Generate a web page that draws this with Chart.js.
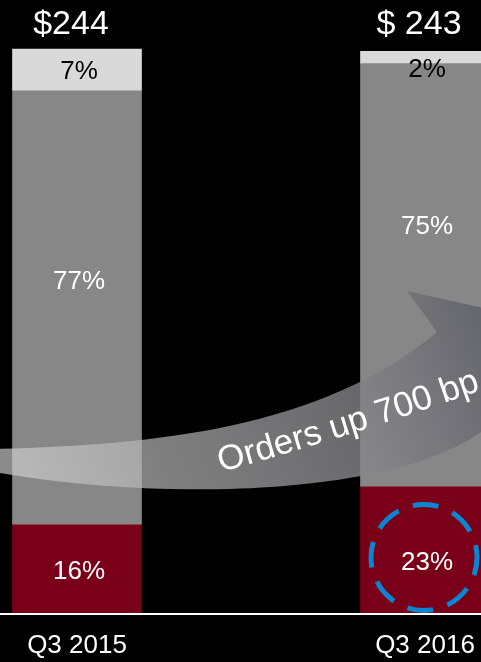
<!DOCTYPE html>
<html>
<head>
<meta charset="utf-8">
<script src="https://cdn.jsdelivr.net/npm/chart.js@4.4.1/dist/chart.umd.min.js"></script>
<style>
  html, body { margin: 0; padding: 0; background: #000; }
  canvas { display: block; }
</style>
</head>
<body>
<canvas id="chart" width="481" height="662"></canvas>
<script>
// values
const quarters = ['Q3 2015', 'Q3 2016'];
const totals = [244, 243];
const totalLabels = ['$244', '$ 243'];
const ordersShare = [15.8, 22.6];   // bottom, red
const otherShare = [76.8, 75.2];    // middle, gray
const topShare = [7.4, 2.2];        // top, light gray
const arrowText = 'Orders up 700 bp';

const FONT = '"Liberation Sans", Arial, sans-serif';
const toDollars = share => share.map((s, i) => totals[i] * s / 100);

// y nudge of the % labels, per dataset then per bar (the source deck placed them by hand)
const labelNudge = [[2, 12], [-26, -48], [2, 12]];
const labelColor = ['#fff', '#fff', '#000'];

const overlay = {
  id: 'overlay',
  afterDatasetsDraw(chart) {
    const ctx = chart.ctx;
    const area = chart.chartArea;
    const W = chart.width;

    // baseline rule
    ctx.save();
    ctx.fillStyle = '#fff';
    ctx.fillRect(0, area.bottom - 1, W, 2);

    // curved arrow
    ctx.beginPath();
    ctx.moveTo(-5, 449);
    ctx.bezierCurveTo(150, 445, 320, 430, 437, 332);
    ctx.lineTo(407, 291);
    ctx.lineTo(560, 325);
    ctx.lineTo(490, 425);
    ctx.bezierCurveTo(400, 500, 150, 500, -5, 472);
    ctx.closePath();
    const g = ctx.createLinearGradient(0, 480, 481, 300);
    g.addColorStop(0, 'rgba(210,210,210,0.67)');
    g.addColorStop(0.55, 'rgba(150,150,152,0.76)');
    g.addColorStop(1, 'rgba(95,95,104,0.86)');
    ctx.fillStyle = g;
    ctx.fill();

    // text along the arrow
    drawOnCurve(ctx, arrowText, [221, 472], [351, 436], [484, 389]);

    // % labels
    ctx.font = '26px ' + FONT;
    ctx.textAlign = 'center';
    ctx.textBaseline = 'middle';
    const shares = [ordersShare, otherShare, topShare];
    chart.data.datasets.forEach((ds, di) => {
      chart.getDatasetMeta(di).data.forEach((el, i) => {
        ctx.fillStyle = labelColor[di];
        const cy = (el.y + el.base) / 2 + labelNudge[di][i];
        ctx.fillText(Math.round(shares[di][i]) + '%', el.x + 2, cy);
      });
    });

    // totals on top
    ctx.font = '34px ' + FONT;
    ctx.fillStyle = '#fff';
    ctx.textBaseline = 'alphabetic';
    chart.getDatasetMeta(2).data.forEach((el, i) => {
      ctx.fillText(totalLabels[i], el.x - 6, area.top - 15);
    });

    // dashed circle round the 2016 orders share
    const red = chart.getDatasetMeta(0).data[1];
    ctx.beginPath();
    ctx.setLineDash([26, 15]);
    ctx.lineDashOffset = 8;
    ctx.lineWidth = 5;
    ctx.strokeStyle = '#0a85cf';
    ctx.arc(red.x - 1, (red.y + red.base) / 2 + labelNudge[0][1] - 5, 53, 0, Math.PI * 2);
    ctx.stroke();
    ctx.restore();
  }
};

function drawOnCurve(ctx, text, p0, p1, p2) {
  const pt = t => [
    (1 - t) * (1 - t) * p0[0] + 2 * t * (1 - t) * p1[0] + t * t * p2[0],
    (1 - t) * (1 - t) * p0[1] + 2 * t * (1 - t) * p1[1] + t * t * p2[1]
  ];
  const steps = 200;
  const pts = [], lens = [0];
  for (let i = 0; i <= steps; i++) pts.push(pt(i / steps));
  for (let i = 1; i <= steps; i++) {
    lens.push(lens[i - 1] + Math.hypot(pts[i][0] - pts[i - 1][0], pts[i][1] - pts[i - 1][1]));
  }
  const at = s => {
    let i = 1;
    while (i < steps && lens[i] < s) i++;
    const a = pts[i - 1], b = pts[i];
    const f = (s - lens[i - 1]) / (lens[i] - lens[i - 1] || 1);
    return { x: a[0] + (b[0] - a[0]) * f, y: a[1] + (b[1] - a[1]) * f, ang: Math.atan2(b[1] - a[1], b[0] - a[0]) };
  };
  ctx.font = '35px ' + FONT;
  ctx.fillStyle = '#fff';
  ctx.textAlign = 'center';
  ctx.textBaseline = 'alphabetic';
  let s = 0;
  for (const ch of text) {
    const w = ctx.measureText(ch).width;
    const p = at(s + w / 2);
    ctx.save();
    ctx.translate(p.x, p.y);
    ctx.rotate(p.ang);
    ctx.fillText(ch, 0, 0);
    ctx.restore();
    s += w;
  }
}

new Chart(document.getElementById('chart'), {
  type: 'bar',
  data: {
    labels: quarters,
    datasets: [
      { label: 'Orders', data: toDollars(ordersShare), backgroundColor: '#7a0019' },
      { label: 'Other', data: toDollars(otherShare), backgroundColor: '#878787' },
      { label: 'Top', data: toDollars(topShare), backgroundColor: '#d9d9d9' }
    ]
  },
  options: {
    responsive: false,
    animation: false,
    datasets: { bar: { barThickness: 129, clip: false } },
    layout: { padding: { top: 49, left: 77, right: 56, bottom: 0 } },
    plugins: { legend: { display: false }, tooltip: { enabled: false } },
    scales: {
      x: {
        stacked: true,
        offset: false,
        grid: { display: false, drawTicks: false },
        border: { display: false },
        ticks: { color: '#fff', font: { size: 26, family: FONT }, padding: 16, maxRotation: 0 },
        afterFit(scale) {
          scale.height = 48;
          scale.paddingLeft = 0;
          scale.paddingRight = 0;
        }
      },
      y: { stacked: true, display: false, min: 0, max: 244 }
    }
  },
  plugins: [overlay]
});
</script>
</body>
</html>
